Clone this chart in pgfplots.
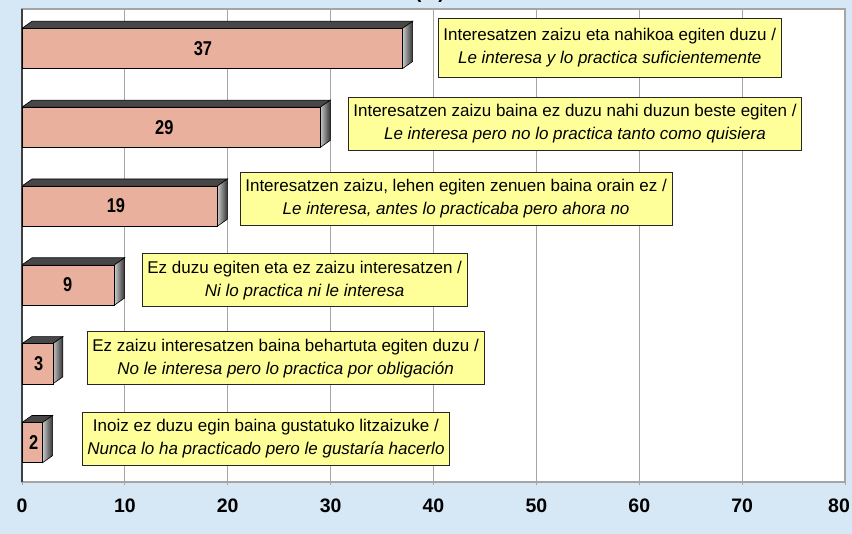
\documentclass[border=0pt]{standalone}
\usepackage{pgfplots}
\pgfplotsset{compat=1.18}
\usepackage{pgfplotstable}
\usepackage{fontspec}
\setmainfont{Liberation Sans}
\newfontfamily\narrowfont[FakeStretch=0.82]{Liberation Sans}

\definecolor{bgblue}{RGB}{214,231,245}
\definecolor{barfill}{RGB}{232,176,157}
\definecolor{boxyellow}{RGB}{255,255,153}
\definecolor{gridgray}{RGB}{165,165,165}

\pgfplotstableread{
cat val
0 37
1 29
2 19
3 9
4 3
5 2
}\datatable

% 3D top and side faces of a bar (category #1, value #2)
\newcommand\faces[2]{%
  \pgfmathsetmacro\yt{#1-0.255}%
  \pgfmathsetmacro\yb{#1+0.255}%
  \pgfmathsetmacro\ytb{#1-0.255-0.089}%
  \pgfmathsetmacro\ybb{#1+0.255-0.089}%
  \pgfmathsetmacro\xe{#2+0.97}%
  \addplot[forget plot, draw=black, line width=0.6pt, fill=black!72]
    coordinates {(0,\yt) (#2,\yt) (\xe,\ytb) (0.97,\ytb) (0,\yt)};
  \addplot[forget plot, draw=black, line width=0.6pt, left color=black!22, right color=black!80]
    coordinates {(#2,\yt) (\xe,\ytb) (\xe,\ybb) (#2,\yb) (#2,\yt)};
}

\tikzset{lbox/.style={fill=boxyellow, draw=black!85, line width=0.7pt, align=center,
  font=\fontsize{17}{23}\selectfont, inner xsep=5pt, inner ysep=7pt, anchor=west}}

\begin{document}
\begin{tikzpicture}[x=1pt,y=1pt]
\useasboundingbox (0,0) rectangle (852,534);
\fill[bgblue] (0,0) rectangle (852,534);
\node[anchor=base, font=\bfseries\fontsize{19}{19}\selectfont] at (430,535) {(\%)};
\begin{axis}[
  at={(22pt,52pt)}, anchor=south west, scale only axis,
  width=823pt, height=473pt,
  xmin=0, xmax=80, ymin=-0.5, ymax=5.5, y dir=reverse,
  xtick={0,10,...,70}, ytick=\empty,
  extra x ticks={80},
  extra x tick style={xticklabel style={xshift=-6pt}},
  xmajorgrids, grid style={gridgray, line width=1pt},
  axis line style={gridgray, line width=1.6pt},
  axis background/.style={fill=white},
  tick align=outside, major tick length=3pt, tick style={gridgray, line width=1pt},
  xtick pos=lower,
  xticklabel style={font=\bfseries\fontsize{19.5}{19.5}\selectfont, yshift=-10pt},
  /pgf/number format/assume math mode=true,
  clip=false,
]
\addplot[forget plot, black!75, line width=1.8pt] coordinates {(0,-0.5) (0,5.5)};
\faces{0}{37}
\faces{1}{29}
\faces{2}{19}
\faces{3}{9}
\faces{4}{3}
\faces{5}{2}
\addplot[forget plot, xbar, bar shift=0pt, bar width=0.51, fill=barfill, draw=black, line width=0.6pt]
  table[x=val, y=cat] {\datatable};
\addplot[forget plot, xbar, bar shift=0pt, bar width=0.51, draw=none, fill=none,
  nodes near coords, point meta=explicit symbolic,
  every node near coord/.append style={anchor=center, font=\narrowfont\bfseries\fontsize{20}{20}\selectfont}]
  table[x expr=\thisrow{val}*0.47+0.2, y=cat, meta=val] {\datatable};

\node[lbox, inner ysep=10pt] at (axis cs:40.44,-0.01) {Interesatzen zaizu eta nahikoa egiten duzu /\\\textit{Le interesa y lo practica suficientemente}};
\node[lbox] at (axis cs:31.69,0.96) {Interesatzen zaizu baina ez duzu nahi duzun beste egiten /\\\textit{Le interesa pero no lo practica tanto como quisiera}};
\node[lbox] at (axis cs:21.19,1.91) {Interesatzen zaizu, lehen egiten zenuen baina orain ez /\\\textit{Le interesa, antes lo practicaba pero ahora no}};
\node[lbox] at (axis cs:11.66,2.94) {Ez duzu egiten eta ez zaizu interesatzen /\\\textit{Ni lo practica ni le interesa}};
\node[lbox] at (axis cs:6.32,3.93) {Ez zaizu interesatzen baina behartuta egiten duzu /\\\textit{No le interesa pero lo practica por obligación}};
\node[lbox] at (axis cs:5.83,4.95) {Inoiz ez duzu egin baina gustatuko litzaizuke /\\\textit{Nunca lo ha practicado pero le gustaría hacerlo}};
\end{axis}
\end{tikzpicture}
\end{document}
